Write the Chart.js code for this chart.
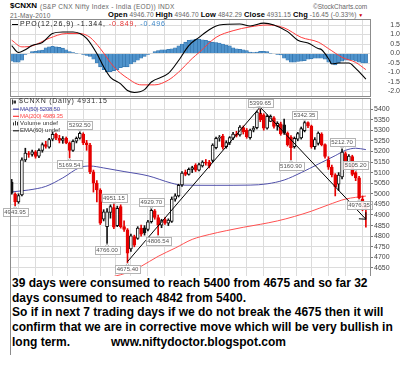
<!DOCTYPE html>
<html>
<head>
<meta charset="utf-8">
<script src="https://cdn.jsdelivr.net/npm/chart.js@4.4.1/dist/chart.umd.min.js"></script>
<style>
    body { margin: 0; width: 400px; height: 365px; background: #fff; position: relative; overflow: hidden; font-family: Arial, "Liberation Sans", sans-serif; }
    .abs { position: absolute; white-space: nowrap; }
    canvas { position: absolute; left: 0; }
    .gray { color: #666; }
    #note { left: 11px; top: 276px; width: 389px; height: 79px; background: #fff; font: bold 12px Arial, "Liberation Sans", sans-serif; line-height: 14.7px; color: #000; padding-left: 1px; box-sizing: border-box; }
</style>
</head>
<body>

<div class="abs" style="left:10px; top:1px; font-size:8px; line-height:10px;"><b>$CNXN</b></div>
<div class="abs gray" style="left:40px; top:2px; font-size:6.5px; line-height:9px; letter-spacing:0.3px;">(S&amp;P CNX Nifty Index - India (EOD)) INDX</div>
<div class="abs gray" style="left:313px; top:2px; font-size:6.5px; line-height:9px;">&copy;StockCharts.com</div>
<div class="abs gray" style="left:10px; top:11px; font-size:6.5px; line-height:9px; letter-spacing:0.2px;">21-May-2010</div>
<div class="abs" style="left:108px; top:10px; font-size:6.5px; line-height:10px; letter-spacing:0.1px;" id="quote"></div>

<canvas id="ppoChart" width="400" height="78" style="top:19px;"></canvas>
<canvas id="priceChart" width="400" height="257" style="top:98px;"></canvas>

<div class="abs" id="note">39 days were consumed to reach 5400 from 4675 and so far 32<br>days consumed to reach 4842 from 5400.<br>So if in next 7 trading days if we do not break the 4675 then it will<br>confirm that we are in corrective move which will be very bullish in<br>long term.<span style="padding-left:41px;">www.niftydoctor.blogspot.com</span></div>

<script>
// daily candles, one per trading day (index 0 .. 104)
const opens = [5055, 4998, 4962, 4995, 5160, 5190, 5186, 5198, 5178, 5205,
    5232, 5220, 5258, 5280, 5262, 5252, 5262, 5240, 5205, 5248,
    5262, 5282, 5240, 5230, 5104, 5050, 5018, 4880, 4845, 4912,
    4935, 4850, 4940, 4845, 4830, 4740, 4798, 4790, 4838, 4840,
    4832, 4868, 4920, 4888, 4852, 4878, 4862, 4870, 4975, 4990,
    5042, 5102, 5092, 5115, 5136, 5112, 5132, 5150, 5150, 5158,
    5218, 5262, 5272, 5222, 5240, 5262, 5282, 5278, 5312, 5300,
    5265, 5300, 5312, 5381, 5372, 5310, 5342, 5358, 5320, 5330,
    5325, 5286, 5268, 5222, 5258, 5264, 5298, 5336, 5320, 5222,
    5238, 5282, 5232, 5160, 5126, 5089, 5045, 5080, 5190, 5140,
    5176, 5100, 5075, 4975, 4946.70];
const highs = [5068, 5005, 5000, 5170, 5215, 5200, 5206, 5204, 5212, 5240,
    5248, 5262, 5290, 5286, 5276, 5270, 5268, 5245, 5255, 5268,
    5292.50, 5288, 5252, 5238, 5112, 5062, 5024, 4925, 4930, 4948,
    4951.15, 4942, 4948, 4872, 4836, 4810, 4805, 4845, 4852, 4850,
    4875, 4929.70, 4926, 4900, 4880, 4888, 4882, 4985, 5000, 5045,
    5105, 5112, 5122, 5130, 5142, 5145, 5156, 5162, 5158, 5236,
    5268, 5275, 5280, 5250, 5270, 5290, 5295, 5322, 5320, 5308,
    5305, 5318, 5390, 5399.65, 5378, 5372, 5372, 5364, 5340, 5338,
    5352, 5292, 5275, 5268, 5290, 5315, 5342.35, 5340, 5324, 5265,
    5292, 5288, 5236, 5175, 5135, 5095, 5100, 5212.70, 5198, 5185,
    5182, 5105.20, 5082, 4990, 4946.70];
const lows = [4998, 4943.95, 4955, 4990, 5152, 5172, 5178, 5168, 5170, 5196,
    5215, 5215, 5250, 5255, 5240, 5238, 5236, 5169.54, 5200, 5240,
    5258, 5232, 5205, 5095, 5008, 4962, 4855, 4872, 4766.00, 4885,
    4835, 4845, 4838, 4822, 4675.40, 4728, 4750, 4785, 4800, 4805,
    4825, 4862, 4880, 4806.54, 4840, 4855, 4850, 4865, 4965, 4985,
    5035, 5085, 5088, 5100, 5105, 5108, 5126, 5135, 5122, 5150,
    5212, 5248, 5210, 5215, 5232, 5255, 5268, 5272, 5282, 5262,
    5258, 5292, 5306, 5340, 5300, 5305, 5340, 5310, 5300, 5276,
    5280, 5225, 5160.90, 5215, 5250, 5258, 5292, 5312, 5215, 5210,
    5230, 5226, 5168, 5115, 5080, 4990, 5015, 5070, 5120, 5132,
    5085, 5062, 4976.35, 4920, 4842.29];
const closes = [5003, 4962, 4992, 5160, 5192, 5186, 5198, 5176, 5205, 5232,
    5224, 5256, 5280, 5262, 5252, 5260, 5240, 5205, 5248, 5262,
    5285, 5240, 5232, 5104, 5050, 5018, 4862, 4915, 4915, 4940,
    4842, 4932, 4845, 4832, 4720, 4802, 4758, 4838, 4810, 4815,
    4868, 4922, 4888, 4852, 4874, 4862, 4876, 4975, 4990, 5040,
    5098, 5092, 5115, 5124, 5112, 5138, 5150, 5145, 5130, 5230,
    5262, 5266, 5220, 5242, 5265, 5282, 5275, 5315, 5292, 5270,
    5300, 5310, 5385, 5348, 5310, 5365, 5366, 5318, 5332, 5282,
    5288, 5232, 5218, 5262, 5284, 5308, 5336, 5320, 5222, 5256,
    5286, 5232, 5176, 5126, 5089, 5032, 5088, 5197, 5130, 5178,
    5092, 5075, 4980, 4947.60, 4931.15];

// moving averages as [day, value]
const ma50 = [[0, 5009], [5, 5018], [10, 5035], [15, 5075], [20, 5124], [23, 5131], [27, 5122],
    [33, 5105], [40, 5085], [47, 5050], [50, 5041], [60, 5040], [70, 5041], [75, 5047],
    [80, 5065], [85, 5100], [90, 5140], [95, 5180], [98, 5205], [101, 5215], [104, 5208.50]];
const ma200 = [[30, 4610], [34, 4628], [38, 4658], [43, 4705], [48, 4744], [53, 4785], [58, 4808],
    [63, 4826], [68, 4842], [73, 4856], [78, 4872], [83, 4893], [88, 4918], [93, 4948],
    [98, 4975], [104, 4989.35]];

// hand drawn trend arrows
const upMove = [[34, 4680], [73, 5410]];
const downMove = [[73, 5408], [104, 4880]];

// swing high / low call-outs
const priceNotes = [[1, 4943.95, 'low'], [17, 5169.54, 'low'], [20, 5292.50, 'high'], [28, 4766.00, 'low'],
    [30, 4951.15, 'high'], [34, 4675.40, 'low'], [41, 4929.70, 'high'], [43, 4806.54, 'low'],
    [73, 5399.65, 'high'], [82, 5160.90, 'low'], [86, 5342.35, 'high'], [97, 5212.70, 'high'],
    [101, 5105.20, 'high'], [102, 4976.35, 'low']];

// PPO(12,26,9) panel
const ppoLine = [[0, 0.42], [2, 0.05], [4, 0.2], [6, 0.42], [9, 0.58], [12, 1.05], [15, 1.13], [18, 1.13],
    [20, 1.05], [22, 0.8], [25, 0.0], [27, -0.7], [29, -1.25], [32, -1.6], [34, -1.95], [36, -2.05],
    [39, -1.9], [41, -1.5], [46, -1.05], [49, -0.37], [52, 0.42], [55, 0.85], [58, 1.25], [61, 1.5],
    [67, 1.55], [70, 1.45], [74, 1.6], [77, 1.5], [81, 1.15], [84, 0.7], [87, 0.55], [90, 0.26],
    [91, 0.2], [93, -0.26], [94, -0.55], [96, -0.5], [99, -0.5], [101, -0.78], [104, -1.344]];
const signalLine = [[0, 0.7], [3, 0.35], [6, 0.4], [11, 0.8], [16, 1.05], [20, 1.05], [23, 0.85],
    [26, 0.26], [30, -0.7], [34, -1.3], [38, -1.65], [42, -1.65], [46, -1.4], [49, -0.98],
    [53, -0.26], [55, 0.05], [60, 0.85], [65, 1.2], [70, 1.4], [75, 1.5], [80, 1.35], [85, 0.85],
    [90, 0.6], [93, 0.26], [97, -0.2], [101, -0.47], [104, -0.849]];
const histogram = [-0.4, -0.45, -0.45, -0.35, -0.05, 0.0, 0.1, 0.12, 0.15, 0.18,
    0.3, 0.35, 0.38, 0.35, 0.32, 0.28, 0.2, 0.1, 0.05, 0.02,
    0.0, -0.05, -0.1, -0.15, -0.3, -0.5, -0.7, -0.85, -0.95, -0.95,
    -0.9, -0.85, -0.75, -0.7, -0.7, -0.55, -0.45, -0.35, -0.25, -0.15,
    -0.05, 0.0, 0.1, 0.15, 0.2, 0.2, 0.22, 0.25, 0.3, 0.4,
    0.5, 0.6, 0.7, 0.72, 0.75, 0.75, 0.72, 0.7, 0.65, 0.6,
    0.58, 0.55, 0.5, 0.45, 0.4, 0.3, 0.25, 0.22, 0.2, 0.15,
    0.08, 0.05, 0.08, 0.12, 0.12, 0.1, 0.02, 0.0, -0.05, -0.08,
    -0.25, -0.35, -0.45, -0.45, -0.42, -0.4, -0.38, -0.3, -0.28, -0.25,
    -0.25, -0.25, -0.3, -0.45, -0.55, -0.6, -0.5, -0.4, -0.35, -0.35,
    -0.35, -0.4, -0.45, -0.5, -0.496];

// axis ticks
const priceTicks = [4650, 4700, 4750, 4800, 4850, 4900, 4950, 5000, 5050, 5100, 5150, 5200, 5250, 5300, 5350, 5400];
const ppoTicks = [-2.0, -1.5, -1.0, -0.5, 0.0, 0.5, 1.0, 1.5];
const weekLines = [-0.5, 4.5, 9.5, 14.5, 18.5, 23.5, 28.5, 32.5, 37.5, 42.5, 47.5, 52.5, 57.5,
    61.5, 66.5, 71.5, 76.5, 81.5, 85.5, 90.5, 95.5, 100.5];

const RED = '#e60000';
const BLACK = '#111111';
const GRID = '#dcdcdc';
const AXIS_W = 29;

function last(arr) { return arr[arr.length - 1]; }
function toPoints(pairs) { return pairs.map(p => ({ x: p[0], y: p[1] })); }

// StockCharts style: red when the close is below the previous close
function candleColor(i) {
    return (i > 0 && closes[i] < closes[i - 1]) ? RED : BLACK;
}

// spreads coloured text pieces over a given width, glyph by glyph,
// to copy the loose letter spacing of the StockCharts legend
function drawFitted(ctx, x, y, pieces, width) {
    let natural = 0;
    let count = 0;
    pieces.forEach(p => {
        for (const ch of p[0]) { natural += ctx.measureText(ch).width; count++; }
    });
    const gap = count > 1 ? (width - natural) / (count - 1) : 0;
    pieces.forEach(p => {
        ctx.fillStyle = p[1];
        for (const ch of p[0]) {
            ctx.fillText(ch, x, y);
            x += ctx.measureText(ch).width + gap;
        }
    });
}

// ---------- header quote ----------
const prevClose = closes[closes.length - 2];
document.getElementById('quote').innerHTML =
    '<b style="font-size:7.5px">Open</b> <span class="gray">' + last(opens).toFixed(2) + '</span> ' +
    '<b style="font-size:7.5px">High</b> <span class="gray">' + last(highs).toFixed(2) + '</span> ' +
    '<b style="font-size:7.5px">Low</b> <span class="gray">' + last(lows).toFixed(2) + '</span> ' +
    '<b style="font-size:7.5px">Close</b> <span class="gray">' + last(closes).toFixed(2) + '</span> ' +
    '<b style="font-size:7.5px">Chg</b> <span class="gray">' + (last(closes) - prevClose).toFixed(2) +
    ' (' + ((last(closes) / prevClose - 1) * 100).toFixed(2) + '%)</span> ' +
    '<span style="color:#c00; font-size:5px;">&#9660;</span>';

// ---------- plugins ----------
const framePlugin = {
    id: 'frame',
    afterDraw(chart) {
        const a = chart.chartArea;
        const ctx = chart.ctx;
        ctx.save();
        ctx.strokeStyle = '#8c8c8c';
        ctx.lineWidth = 1;
        ctx.strokeRect(Math.round(a.left) + 0.5, Math.round(a.top) + 0.5,
            Math.round(a.right - a.left) - 1, Math.round(a.bottom - a.top) - 1);
        ctx.restore();
    }
};

const ppoLegendPlugin = {
    id: 'ppoLegend',
    afterDraw(chart) {
        const ctx = chart.ctx;
        ctx.save();
        ctx.font = '7px Arial';
        ctx.textBaseline = 'middle';
        ctx.strokeStyle = '#000';
        ctx.beginPath(); ctx.moveTo(12, 5.5); ctx.lineTo(18, 5.5); ctx.stroke();
        drawFitted(ctx, 20, 5.5, [
            ['PPO(12,26,9) ' + last(ppoLine)[1].toFixed(3) + ', ', '#222'],
            [last(signalLine)[1].toFixed(3) + ', ', '#e83030'],
            [last(histogram).toFixed(3), '#3a86c8']
        ], 145);
        ctx.restore();
    }
};

const priceLegendPlugin = {
    id: 'priceLegend',
    afterDraw(chart) {
        const ctx = chart.ctx;
        ctx.save();
        ctx.textBaseline = 'middle';
        // line 1: the symbol with a tiny candle glyph
        ctx.fillStyle = '#333';
        ctx.fillRect(12, 1.5, 1, 5);
        ctx.fillRect(13.5, 2.5, 2.5, 3);
        ctx.font = '7px Arial';
        drawFitted(ctx, 19, 3.5, [['$CNXN (Daily) ' + last(closes).toFixed(2), '#333']], 88);
        // overlay lines: text, colour, icon, width on the picture
        const rows = [
            ['MA(50) ' + last(ma50)[1].toFixed(2), '#4848a8', 'line', 40],
            ['MA(200) ' + last(ma200)[1].toFixed(2), '#ff4a4a', 'line', 43],
            ['Volume undef', '#333', 'bars', 38],
            ['EMA(60) undef', '#333', 'line', 40]
        ];
        ctx.font = '6px Arial';
        rows.forEach((r, k) => {
            const y = 11 + k * 7.2;
            ctx.fillStyle = r[1];
            if (r[2] === 'line') {
                ctx.fillRect(13, y - 0.5, 6, 1.3);
            } else {
                ctx.fillRect(13, y - 1, 1, 3); ctx.fillRect(15, y - 2.5, 1, 4.5); ctx.fillRect(17, y - 1.5, 1, 3.5);
            }
            drawFitted(ctx, 20, y, [[r[0], r[1]]], r[3]);
        });
        ctx.restore();
    }
};

const arrowPlugin = {
    id: 'arrows',
    afterDatasetsDraw(chart) {
        const ctx = chart.ctx;
        chart.data.datasets.forEach((ds, k) => {
            if (!ds.arrow) return;
            const pts = chart.getDatasetMeta(k).data;
            const a = pts[pts.length - 2];
            const b = pts[pts.length - 1];
            const ang = Math.atan2(b.y - a.y, b.x - a.x);
            ctx.save();
            ctx.strokeStyle = '#000';
            ctx.lineWidth = 1;
            ctx.beginPath();
            [-0.75, 0.75].forEach(d => {
                ctx.moveTo(b.x, b.y);
                ctx.lineTo(b.x - 7 * Math.cos(ang + d), b.y - 7 * Math.sin(ang + d));
            });
            ctx.stroke();
            ctx.restore();
        });
    }
};

const notesPlugin = {
    id: 'notes',
    afterDatasetsDraw(chart) {
        const ctx = chart.ctx;
        const xs = chart.scales.x;
        const ys = chart.scales.y;
        ctx.save();
        ctx.font = '6px Arial';
        ctx.textAlign = 'center';
        ctx.textBaseline = 'middle';
        priceNotes.forEach(([i, v, side]) => {
            const px = xs.getPixelForValue(i);
            const py = ys.getPixelForValue(v);
            const text = v.toFixed(2);
            const w = ctx.measureText(text).width + 3;
            const h = 8;
            const top = side === 'low' ? py + 2.5 : py - 10.5;
            ctx.fillStyle = 'rgba(255,255,255,0.9)';
            ctx.strokeStyle = '#b4b4b4';
            ctx.lineWidth = 1;
            ctx.fillRect(px - w / 2, top, w, h);
            ctx.strokeRect(Math.round(px - w / 2) + 0.5, Math.round(top) + 0.5, Math.round(w), h);
            // little pointer toward the candle
            ctx.beginPath();
            if (side === 'low') {
                ctx.moveTo(px - 2, top + 0.5); ctx.lineTo(px, py + 0.5); ctx.lineTo(px + 2, top + 0.5);
            } else {
                ctx.moveTo(px - 2, top + h + 0.5); ctx.lineTo(px, py - 0.5); ctx.lineTo(px + 2, top + h + 0.5);
            }
            ctx.stroke();
            ctx.fillStyle = '#555';
            ctx.fillText(text, px, top + h / 2 + 0.5);
        });
        ctx.restore();
    }
};

// ---------- shared axis helpers ----------
function dayAxis() {
    return {
        type: 'linear', min: -0.5, max: 105.5, offset: false,
        afterBuildTicks: s => { s.ticks = weekLines.map(v => ({ value: v })); },
        afterFit: s => { s.height = 0; s.paddingLeft = 0; s.paddingRight = 0; },
        ticks: { display: false },
        grid: { color: GRID, drawTicks: false },
        border: { display: false }
    };
}

function fixWidth(s) {
    s.width = AXIS_W;
    s.paddingTop = 0;
    s.paddingBottom = 0;
}

// ---------- PPO chart ----------
new Chart(document.getElementById('ppoChart').getContext('2d'), {
    type: 'bar',
    data: {
        datasets: [
            {
                type: 'line', data: toPoints(ppoLine), borderColor: '#000', borderWidth: 1.1,
                pointRadius: 0, cubicInterpolationMode: 'monotone', order: 0
            },
            {
                type: 'line', data: toPoints(signalLine), borderColor: '#ff3c3c', borderWidth: 1,
                pointRadius: 0, cubicInterpolationMode: 'monotone', order: 1
            },
            {
                data: histogram.map((v, i) => ({ x: i, y: v })),
                backgroundColor: '#4f93cc', borderColor: '#2f6fa8', borderWidth: 0.6,
                barThickness: 3.4, grouped: false, order: 2
            }
        ]
    },
    options: {
        responsive: false, animation: false, devicePixelRatio: 1,
        layout: { padding: { left: 10, right: 0, top: 0, bottom: 0 } },
        plugins: { legend: { display: false }, tooltip: { enabled: false } },
        scales: {
            x: dayAxis(),
            y: {
                position: 'right', min: -2.289, max: 1.816,
                afterBuildTicks: s => { s.ticks = ppoTicks.map(v => ({ value: v })); },
                afterFit: fixWidth,
                grid: { color: GRID, drawTicks: false },
                border: { display: false },
                ticks: {
                    color: '#444', padding: 0, crossAlign: 'far', autoSkip: false,
                    font: { size: 7, family: 'Arial' },
                    callback: v => v.toFixed(1)
                }
            }
        }
    },
    plugins: [framePlugin, ppoLegendPlugin]
});

// ---------- price chart ----------
new Chart(document.getElementById('priceChart').getContext('2d'), {
    type: 'bar',
    data: {
        datasets: [
            {
                type: 'line', data: toPoints(upMove), borderColor: '#000', borderWidth: 1,
                pointRadius: 0, arrow: true, order: 0
            },
            {
                type: 'line', data: toPoints(downMove), borderColor: '#000', borderWidth: 1,
                pointRadius: 0, arrow: true, order: 0
            },
            {
                type: 'line', data: toPoints(ma50), borderColor: '#5050aa', borderWidth: 1,
                pointRadius: 0, cubicInterpolationMode: 'monotone', order: 3
            },
            {
                type: 'line', data: toPoints(ma200), borderColor: '#ff5050', borderWidth: 1,
                pointRadius: 0, cubicInterpolationMode: 'monotone', order: 3
            },
            {
                // candle bodies
                data: opens.map((o, i) => ({ x: i, y: [o, closes[i]] })),
                backgroundColor: opens.map((o, i) => closes[i] >= o ? '#ffffff' : candleColor(i)),
                borderColor: opens.map((o, i) => candleColor(i)),
                borderWidth: 1, borderSkipped: false,
                barThickness: 3, grouped: false, order: 1
            },
            {
                // wicks
                data: highs.map((h, i) => ({ x: i, y: [lows[i], h] })),
                backgroundColor: highs.map((h, i) => candleColor(i)),
                barThickness: 1, grouped: false, order: 2
            }
        ]
    },
    options: {
        responsive: false, animation: false, devicePixelRatio: 1,
        layout: { padding: { left: 10, right: 0, top: 0, bottom: 0 } },
        plugins: { legend: { display: false }, tooltip: { enabled: false } },
        scales: {
            x: dayAxis(),
            y: {
                position: 'right', min: 4239.6, max: 5451.9,
                afterBuildTicks: s => { s.ticks = priceTicks.map(v => ({ value: v })); },
                afterFit: fixWidth,
                grid: { color: GRID, drawTicks: true, tickLength: 2, tickColor: '#777' },
                border: { display: false },
                ticks: {
                    color: '#444', padding: 1, crossAlign: 'near', autoSkip: false,
                    font: { size: 7, family: 'Arial' },
                    callback: v => String(v)
                }
            }
        }
    },
    plugins: [framePlugin, arrowPlugin, notesPlugin, priceLegendPlugin]
});
</script>
</body>
</html>
